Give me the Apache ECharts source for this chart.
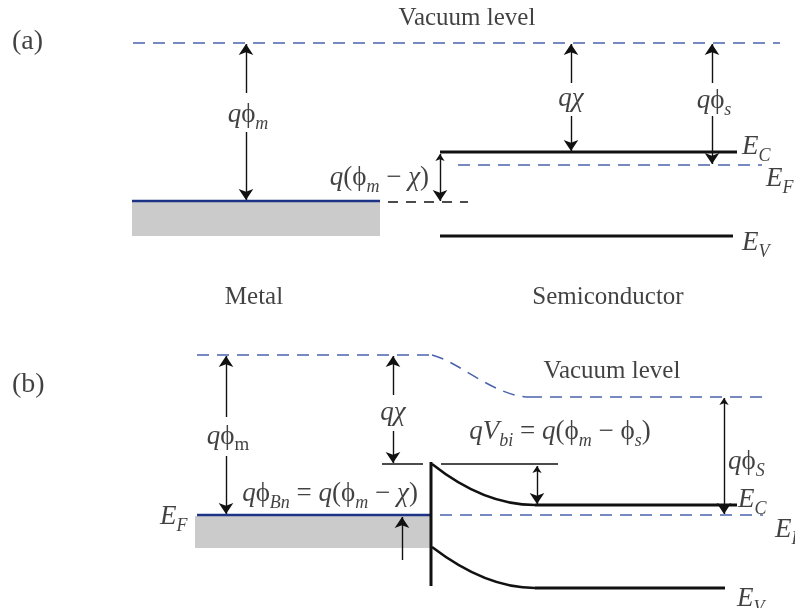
<!DOCTYPE html>
<html>
<head>
<meta charset="utf-8">
<script src="https://cdn.jsdelivr.net/npm/echarts@6/dist/echarts.min.js"></script>
<style>
html, body { margin: 0; padding: 0; background: #fff; }
#chart { width: 795px; height: 608px; }
</style>
</head>
<body>
<div id="chart"></div>
<script>
// ---- panel (a): metal and semiconductor apart ----
const vacuumA = [[133, 43], [780, 43]];
const metalFermiA = [[132, 201], [380, 201]];
const metalBoxA = [132, 202, 380, 236];
const condA = [[440, 152], [737, 152]];
const valA = [[440, 236], [733, 236]];
const semiFermiA = [[458, 165], [762, 165]];
const refDashA = [[388, 202], [468, 202]];

// ---- panel (b): after contact ----
// bent parts: start, control 1, control 2, end
const vacuumLeftB = [[197, 355], [432, 355]];
const vacuumBendB = [432, 355, 460, 362, 495, 397, 530, 397];
const vacuumRightB = [[530, 397], [763, 397]];
const condBendB = [432, 464, 466, 491, 501, 505, 535, 505];
const condFlatB = [[535, 505], [737, 505]];
const valBendB = [432, 547, 466, 573, 501, 588, 535, 588];
const valFlatB = [[535, 588], [725, 588]];
const metalFermiB = [[197, 515], [431, 515]];
const metalBoxB = [195, 516, 431, 548];
const interfaceB = [[431, 462], [431, 586]];
const semiFermiB = [[440, 515], [763, 515]];
const barrierTopL = [[382, 464], [423, 464]];
const barrierTopR = [[441, 464], [558, 464]];

// arrows: [x1, y1, x2, y2], head at the second point
const singleArrows = [
  [246, 93, 246, 44], [246, 132, 246, 200],
  [571, 83, 571, 44], [571, 116, 571, 151],
  [712, 83, 712, 44], [712, 116, 712, 164],
  [226, 417, 226, 356], [226, 456, 226, 514],
  [393, 395, 393, 356], [393, 431, 393, 463],
  [402, 560, 402, 517]
];
const doubleArrows = [
  [440, 154, 440, 201],
  [537, 466, 537, 504],
  [724, 398, 724, 514]
];

// labels: [x, y, align, rich text]
const labels = [
  [12, 42, 'left', '{p|(a)}'],
  [467, 18, 'center', '{t|Vacuum level}'],
  [248, 115, 'center', '{i|q}{n|ϕ}{si|m}'],
  [429, 178, 'right', '{i|q}{n|(ϕ}{si|m}{n| − }{i|χ}{n|)}'],
  [571, 99, 'center', '{i|qχ}'],
  [714, 101, 'center', '{i|q}{n|ϕ}{si|s}'],
  [742, 147, 'left', '{i|E}{si|C}'],
  [766, 179, 'left', '{i|E}{si|F}'],
  [742, 243, 'left', '{i|E}{si|V}'],
  [254, 297, 'center', '{t|Metal}'],
  [608, 297, 'center', '{t|Semiconductor}'],
  [12, 385, 'left', '{p|(b)}'],
  [612, 371, 'center', '{t|Vacuum level}'],
  [228, 437, 'center', '{i|q}{n|ϕ}{sn|m}'],
  [393, 413, 'center', '{i|qχ}'],
  [330, 494, 'center', '{i|q}{n|ϕ}{si|Bn}{n| = }{i|q}{n|(ϕ}{si|m}{n| − }{i|χ}{n|)}'],
  [160, 517, 'left', '{i|E}{si|F}'],
  [560, 432, 'center', '{i|qV}{si|bi}{n| = }{i|q}{n|(ϕ}{si|m}{n| − ϕ}{si|s}{n|)}'],
  [728, 462, 'left', '{i|q}{n|ϕ}{si|S}'],
  [738, 500, 'left', '{i|E}{si|C}'],
  [775, 530, 'left', '{i|E}{si|F}'],
  [737, 599, 'left', '{i|E}{si|V}']
];

const SERIF = '"Liberation Serif", "Times New Roman", serif';
const BLUE = '#4a63ad';
const DARK_BLUE = '#1d3486';
const INK = '#111';

const rich = {
  p: { fontFamily: SERIF, fontSize: 28, color: INK },
  t: { fontFamily: SERIF, fontSize: 25, color: INK },
  i: { fontFamily: SERIF, fontStyle: 'italic', fontSize: 27, lineHeight: 36, color: INK },
  n: { fontFamily: SERIF, fontSize: 27, lineHeight: 36, color: INK },
  si: { fontFamily: SERIF, fontStyle: 'italic', fontSize: 18, lineHeight: 15, verticalAlign: 'bottom', color: INK },
  sn: { fontFamily: SERIF, fontSize: 19, lineHeight: 15, verticalAlign: 'bottom', color: INK }
};

function seg(data, color, width, dash) {
  return {
    type: 'line',
    data: data,
    showSymbol: false,
    symbol: 'none',
    silent: true,
    lineStyle: { color: color, width: width, type: dash || 'solid', cap: 'butt' }
  };
}

// cubic bend drawn from the axis coordinates of its four points
function bend(pts, color, width, dash) {
  return {
    type: 'custom',
    silent: true,
    data: [pts],
    renderItem: function (params, api) {
      const p = [0, 2, 4, 6].map(k => api.coord([api.value(k), api.value(k + 1)]));
      return {
        type: 'bezierCurve',
        shape: {
          x1: p[0][0], y1: p[0][1],
          cpx1: p[1][0], cpy1: p[1][1],
          cpx2: p[2][0], cpy2: p[2][1],
          x2: p[3][0], y2: p[3][1]
        },
        style: { stroke: color, lineWidth: width, fill: null, lineDash: dash || null }
      };
    }
  };
}

function box(rect) {
  return {
    type: 'custom',
    silent: true,
    data: [rect],
    renderItem: function (params, api) {
      const p1 = api.coord([api.value(0), api.value(1)]);
      const p2 = api.coord([api.value(2), api.value(3)]);
      return {
        type: 'rect',
        shape: { x: p1[0], y: p1[1], width: p2[0] - p1[0], height: p2[1] - p1[1] },
        style: { fill: '#cbcbcb' }
      };
    }
  };
}

function arrows(list, heads) {
  return {
    type: 'lines',
    coordinateSystem: 'cartesian2d',
    silent: true,
    symbol: heads,
    symbolSize: [7, 11],
    lineStyle: { color: INK, width: 1.4, opacity: 1, curveness: 0 },
    data: list.map(a => ({ coords: [[a[0], a[1]], [a[2], a[3]]] }))
  };
}

const chart = echarts.init(document.getElementById('chart'));

const series = [
  box(metalBoxA),
  box(metalBoxB),
  seg(vacuumA, BLUE, 1.5, [12, 8]),
  seg(metalFermiA, DARK_BLUE, 2.5),
  seg(condA, INK, 3),
  seg(valA, INK, 3),
  seg(semiFermiA, BLUE, 1.5, [12, 8]),
  seg(refDashA, INK, 1.3, [10, 8]),
  seg(vacuumLeftB, BLUE, 1.5, [12, 8]),
  bend(vacuumBendB, BLUE, 1.5, [12, 8]),
  seg(vacuumRightB, BLUE, 1.5, [12, 8]),
  seg(metalFermiB, DARK_BLUE, 2.5),
  bend(condBendB, INK, 2.5),
  seg(condFlatB, INK, 3),
  bend(valBendB, INK, 2.5),
  seg(valFlatB, INK, 3),
  seg(interfaceB, INK, 3),
  seg(semiFermiB, BLUE, 1.5, [12, 8]),
  seg(barrierTopL, INK, 1.3),
  seg(barrierTopR, INK, 1.3),
  arrows(singleArrows, ['none', 'arrow']),
  arrows(doubleArrows, ['arrow', 'arrow']),
  {
    type: 'scatter',
    symbolSize: 0,
    silent: true,
    data: labels.map(l => ({
      value: [l[0], l[1]],
      label: {
        show: true,
        position: [0, 0],
        align: l[2],
        verticalAlign: 'middle',
        formatter: l[3],
        rich: rich
      }
    }))
  }
];

chart.setOption({
  animation: false,
  backgroundColor: '#fff',
  grid: { left: 0, right: 0, top: 0, bottom: 0 },
  xAxis: { type: 'value', min: 0, max: 795, show: false },
  yAxis: { type: 'value', min: 0, max: 608, inverse: true, show: false },
  series: series
});
</script>
</body>
</html>
